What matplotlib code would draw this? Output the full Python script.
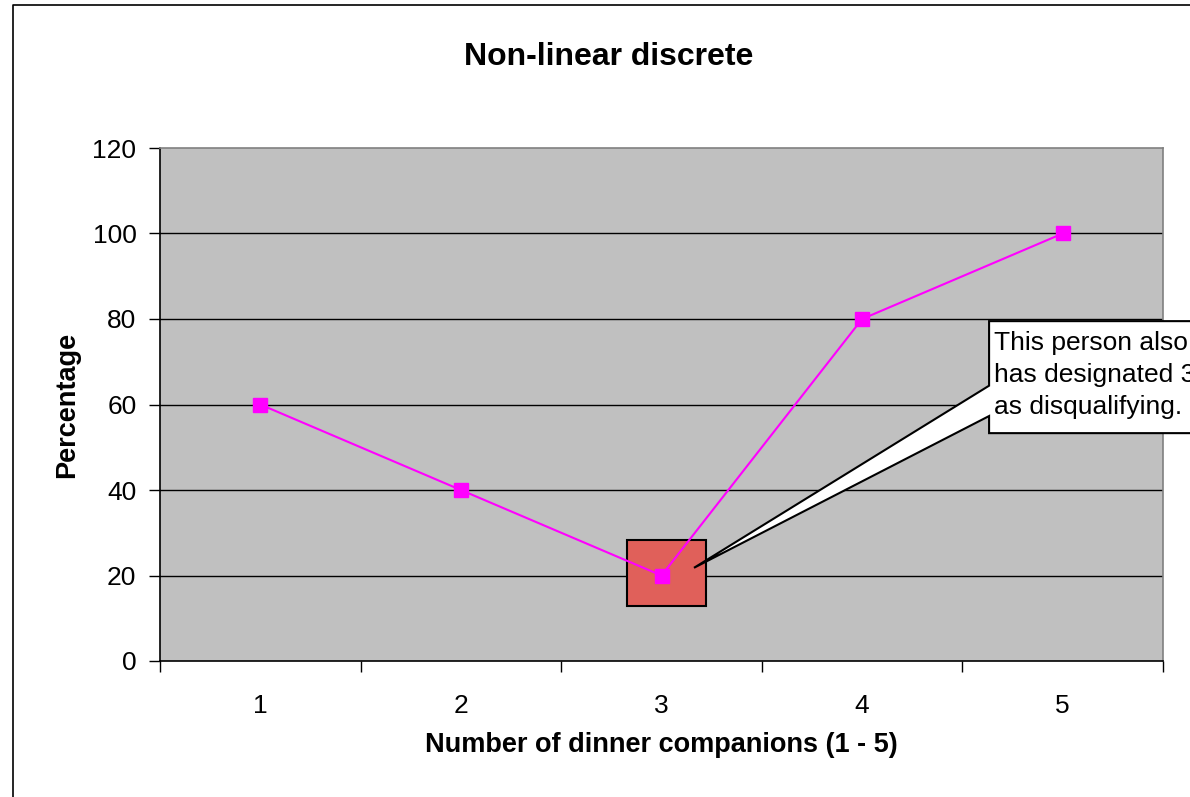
import matplotlib
matplotlib.use("Agg")
import matplotlib.pyplot as plt
from matplotlib.patches import Rectangle, Polygon
from matplotlib.lines import Line2D

plt.rcParams['font.family'] = ['Liberation Sans', 'DejaVu Sans']

categories = [1, 2, 3, 4, 5]
percentages = [60, 40, 20, 80, 100]
y_ticks = [0, 20, 40, 60, 80, 100, 120]
title = "Non-linear discrete"
xlabel = "Number of dinner companions (1 - 5)"
ylabel = "Percentage"
callout_text = "This person also\nhas designated 3\nas disqualifying."

W, H = 1190, 797
fig = plt.figure(figsize=(W / 100, H / 100), dpi=100)
fig.patch.set_facecolor('white')

# outer chart-area border (partially cropped)
fig.add_artist(Line2D([13 / W, 13 / W, 1.2], [-0.2, 1 - 5 / H, 1 - 5 / H],
                      transform=fig.transFigure, color='black', lw=1.2))

ax = fig.add_axes([160 / W, (H - 661) / H, (1163 - 160) / W, (661 - 148) / H])
ax.set_facecolor('#C0C0C0')

ax.set_xlim(0.5, 5.5)
ax.set_ylim(0, 120)
ax.set_yticks(y_ticks)
ax.set_yticklabels([str(v) for v in y_ticks], fontsize=19)
ax.set_xticks(categories)
ax.set_xticklabels([str(c) for c in categories], fontsize=19)
ax.set_xticks([c - 0.5 for c in categories] + [categories[-1] + 0.5], minor=True)
ax.tick_params(axis='x', which='major', length=0, pad=24)
ax.tick_params(axis='x', which='minor', length=8, width=1, direction='out', color='black')
ax.tick_params(axis='y', length=8, width=1, direction='out', pad=9)

for y in y_ticks[1:-1]:
    ax.axhline(y, color='black', lw=1, zorder=1)

for side in ['left', 'bottom']:
    ax.spines[side].set_color('black')
    ax.spines[side].set_linewidth(1.2)
for side in ['right', 'top']:
    ax.spines[side].set_color('#808080')
    ax.spines[side].set_linewidth(1.2)

# highlight box around point 3
ax.add_patch(Rectangle((2.828, 12.9), 0.394, 15.4, facecolor='#E0605A',
                       edgecolor='black', lw=1.5, zorder=2))

ax.plot(categories, percentages, color='#FF00FF', lw=1.5, marker='s',
        markersize=10, markerfacecolor='#FF00FF', markeredgecolor='#FF00FF', zorder=3)

# callout (cropped by the right edge of the picture, as in the original)
x0, x1 = 4.633, 6.5
ytop, ybot = 79.5, 53.3
yw_hi, yw_lo = 64.4, 57.3
tip = (3.162, 21.8)
poly = Polygon([(x0, ytop), (x1, ytop), (x1, ybot), (x0, ybot), (x0, yw_lo), tip,
                (x0, yw_hi)], closed=True, facecolor='white', edgecolor='black',
               lw=1.5, zorder=4, clip_on=False)
ax.add_patch(poly)
ax.text(x0 + 0.025, 66.9, callout_text, fontsize=19, ha='left', va='center',
        linespacing=1.42, zorder=5, clip_on=False)

fig.text(609 / W, 1 - 57 / H, title, fontsize=23, fontweight='bold',
         ha='center', va='center')
ax.set_xlabel(xlabel, fontsize=19.5, fontweight='bold', labelpad=10)
ax.set_ylabel(ylabel, fontsize=19.5, fontweight='bold', labelpad=9)

fig.savefig('out.png', dpi=100)
